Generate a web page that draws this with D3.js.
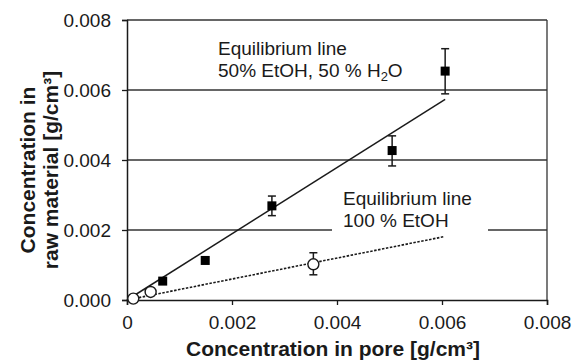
<!DOCTYPE html>
<html><head><meta charset="utf-8">
<script src="https://cdn.jsdelivr.net/npm/d3@7"></script>
<style>body{margin:0;background:#fff}svg{display:block;font-family:"Liberation Sans",Arial,sans-serif}</style>
</head><body><svg id="c" width="572" height="360"></svg>
<script>
const xTicks = [0, 0.002, 0.004, 0.006, 0.008];
const xTickLabels = ["0", "0.002", "0.004", "0.006", "0.008"];
const yTicks = [0, 0.002, 0.004, 0.006, 0.008];
const yTickLabels = ["0.000", "0.002", "0.004", "0.006", "0.008"];

// 50% EtOH, 50% H2O (filled squares)
const mixX = [0.00068, 0.00149, 0.00276, 0.00505, 0.00606];
const mixY = [0.00054, 0.00113, 0.00269, 0.00427, 0.00654];
const mixErrLo = [null, null, 0.00241, 0.00383, 0.00589];
const mixErrHi = [null, null, 0.00297, 0.00469, 0.00718];
const mixLineX = [0, 0.00606];
const mixLineY = [0, 0.00573];

// 100% EtOH (open circles)
const etX = [0.00012, 0.00045, 0.00355];
const etY = [0.00004, 0.00023, 0.00102];
const etErrLo = [null, null, 0.00072];
const etErrHi = [null, null, 0.00135];
const etLineX = [0, 0.00604];
const etLineY = [0, 0.00181];

const svg = d3.select("#c");
const L = 127, R = 547, T = 20, B = 300;
const x = d3.scaleLinear().domain([0, 0.008]).range([L, R]);
const y = d3.scaleLinear().domain([0, 0.008]).range([B, T]);
const ink = "#1a1a1a";

// gridlines
svg.append("g").selectAll("line").data(yTicks.filter(v => v > 0)).join("line")
  .attr("x1", L).attr("x2", R).attr("y1", d => y(d)).attr("y2", d => y(d))
  .attr("stroke", "#333").attr("stroke-width", 1.3);
// right border
svg.append("line").attr("x1", R).attr("x2", R).attr("y1", T).attr("y2", B)
  .attr("stroke", "#333").attr("stroke-width", 1.3);

// axes
const yAxis = d3.axisLeft(y).tickValues(yTicks).tickFormat((d, i) => yTickLabels[i]).tickSize(5).tickPadding(11);
const gy = svg.append("g").attr("transform", `translate(${L},0)`).call(yAxis);
const xAxis = d3.axisBottom(x).tickValues(xTicks).tickFormat((d, i) => xTickLabels[i]).tickSize(5).tickPadding(11);
const gx = svg.append("g").attr("transform", `translate(0,${B})`).call(xAxis);
[gx, gy].forEach(g => {
  g.select(".domain").attr("stroke", ink).attr("stroke-width", 1.5);
  g.selectAll(".tick line").attr("stroke", ink).attr("stroke-width", 1.3);
  g.selectAll("text").attr("font-size", 19).attr("fill", ink).attr("font-family", "Liberation Sans, Arial, sans-serif");
});

// white box behind 100% EtOH label
svg.append("rect").attr("x", 332).attr("y", 186).attr("width", 156).attr("height", 48).attr("fill", "#fff");

// lines
const line = d3.line().x(d => x(d[0])).y(d => y(d[1]));
svg.append("path").attr("d", line(mixLineX.map((v, i) => [v, mixLineY[i]])))
  .attr("fill", "none").attr("stroke", ink).attr("stroke-width", 1.5);
svg.append("path").attr("d", line(etLineX.map((v, i) => [v, etLineY[i]])))
  .attr("fill", "none").attr("stroke", ink).attr("stroke-width", 1.6).attr("stroke-dasharray", "2.5,1.5");

// error bars
function errbars(xs, lo, hi) {
  const g = svg.append("g").attr("stroke", ink).attr("stroke-width", 1.5);
  xs.forEach((xv, i) => {
    if (lo[i] == null) return;
    g.append("line").attr("x1", x(xv)).attr("x2", x(xv)).attr("y1", y(lo[i])).attr("y2", y(hi[i]));
    [lo[i], hi[i]].forEach(v => g.append("line").attr("x1", x(xv) - 4).attr("x2", x(xv) + 4).attr("y1", y(v)).attr("y2", y(v)));
  });
}
errbars(mixX, mixErrLo, mixErrHi);
errbars(etX, etErrLo, etErrHi);

// markers
svg.append("g").selectAll("rect").data(mixX).join("rect")
  .attr("x", (d) => x(d) - 4.5).attr("y", (d, i) => y(mixY[i]) - 4.5)
  .attr("width", 9).attr("height", 9).attr("fill", "#000");
svg.append("g").selectAll("circle").data(etX).join("circle")
  .attr("cx", d => x(d)).attr("cy", (d, i) => y(etY[i])).attr("r", 5.5)
  .attr("fill", "#fff").attr("stroke", ink).attr("stroke-width", 1.4);

// annotations
const fsA = 19;
svg.append("text").attr("x", 218).attr("y", 55).attr("font-size", fsA).attr("fill", ink).text("Equilibrium line");
const t2 = svg.append("text").attr("x", 218).attr("y", 77).attr("font-size", fsA).attr("fill", ink);
t2.append("tspan").text("50% EtOH, 50 % H");
t2.append("tspan").attr("font-size", 13).attr("dy", 4).text("2");
t2.append("tspan").attr("dy", -4).text("O");
svg.append("text").attr("x", 343).attr("y", 205).attr("font-size", fsA).attr("fill", ink).text("Equilibrium line");
svg.append("text").attr("x", 343).attr("y", 227).attr("font-size", fsA).attr("fill", ink).text("100 % EtOH");

// axis titles
svg.append("text").attr("x", 333).attr("y", 356).attr("text-anchor", "middle")
  .attr("font-size", 21).attr("font-weight", "bold").attr("fill", ink).text("Concentration in pore [g/cm³]");
const yt = svg.append("text").attr("transform", `translate(35,170) rotate(-90)`).attr("text-anchor", "middle")
  .attr("font-size", 21).attr("font-weight", "bold").attr("fill", ink);
yt.append("tspan").attr("x", 0).attr("dy", 0).text("Concentration in");
yt.append("tspan").attr("x", 0).attr("dy", 23).text("raw material [g/cm³]");
</script></body></html>
